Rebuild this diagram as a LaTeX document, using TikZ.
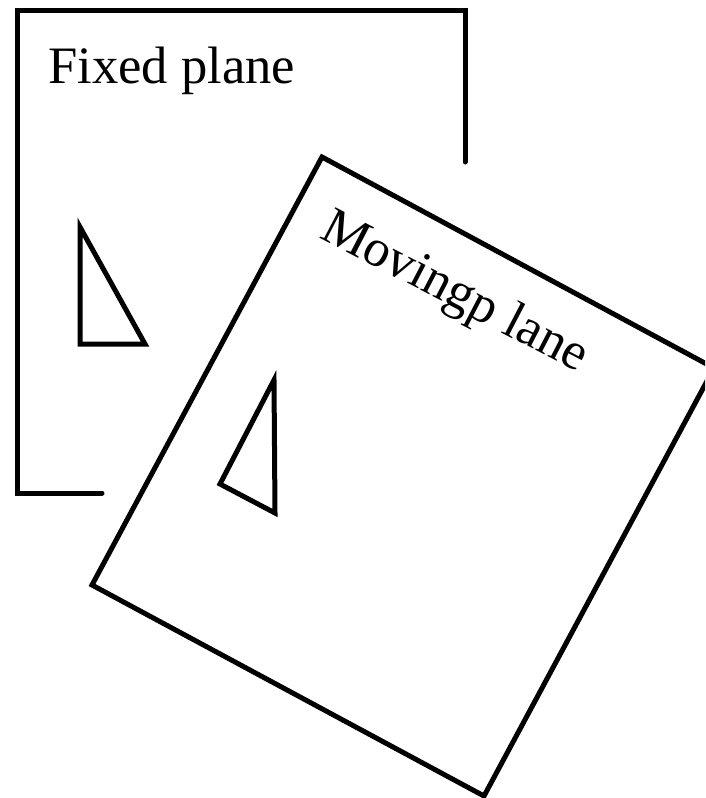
\documentclass[tikz,border=0pt]{standalone}
\usepackage{fontspec}
\setmainfont{Liberation Serif}
\begin{document}
\begin{tikzpicture}[x=1pt,y=-1pt,
  outline/.style={line width=5pt,line cap=round,line join=miter,black},
  label/.style={inner sep=0pt,font=\fontsize{52.6pt}{60pt}\selectfont}]
\useasboundingbox (0,0) rectangle (705,798);
\clip (0,0) rectangle (705,798);
% fixed plane
\draw[outline] (102,493) -- (17,493) -- (17,10) -- (465,10) -- (465,162);
\node[label,anchor=base west] (fixed) at (48,83) {Fixed plane};
\draw[outline] (80,227) -- (80,344) -- (145,344) -- cycle;
% moving plane
\draw[outline] (322,157) -- (714,368) -- (484,796) -- (92,585) -- cycle;
\node[label,anchor=base west,rotate=-27.5] (moving) at (318,237) {Movingp lane};
\draw[outline] (274,380) -- (220,484) -- (275,513) -- cycle;
\end{tikzpicture}
\end{document}
